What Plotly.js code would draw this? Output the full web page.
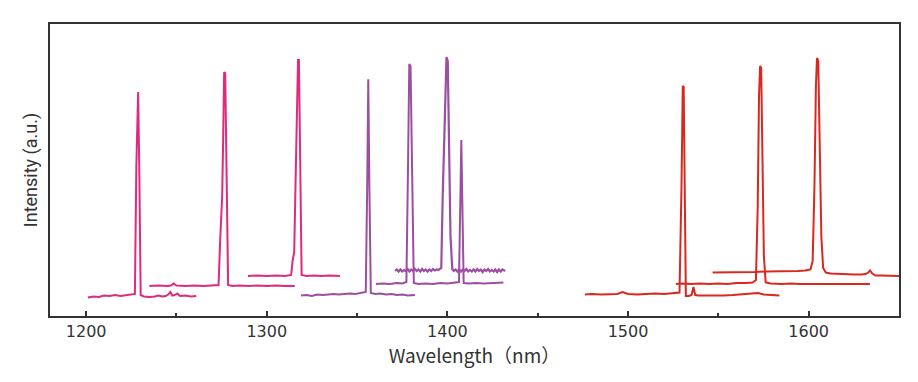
<!DOCTYPE html>
<html>
<head>
<meta charset="utf-8">
<script src="https://cdn.plot.ly/plotly-3.0.1.min.js"></script>
<style>html,body{margin:0;padding:0;background:#fff;}#chart{width:918px;height:382px;}</style>
</head>
<body>
<div id="chart"></div>
<script>
// Wavelength (nm) and intensity (a.u.)
const pink1X = [1201,1204,1207,1210,1213,1216,1219,1222,1225,1227.0,1227.8,1228.4,1228.8,1229.4,1230.2,1232,1235,1238,1240,1242,1244,1245.5,1246.6,1247.7,1249,1250.5,1252,1255,1258,1261];
const pink1Y = [18.5,19.5,19,20.5,20,21,20,20.5,21,22,150,224,224,150,21,19.5,19,19.5,20.5,19.5,20,21.5,24,20.5,21,22.5,20,20.5,19.5,20];

const pink2X = [1235,1240,1245,1247,1248.4,1250,1255,1260,1265,1270,1273.3,1274.3,1275.3,1275.8,1276.4,1277.0,1277.6,1278.6,1281,1285,1290,1295,1300,1305,1310,1315.5];
const pink2Y = [30,30.5,30,30.5,32.5,30.5,30,30.5,30,30.5,31,80,119,170,243.7,243,140,31,30,30.5,30,30.5,30,30.5,30,30];

const pink3X = [1289.6,1295,1300,1305,1310,1313.5,1314.3,1315.2,1315.9,1316.7,1317.3,1317.8,1318.4,1319.3,1322,1326,1330,1335,1340.5];
const pink3Y = [40,40.5,40,40.5,40,41,55,64,130,220,256,256,150,41,40,40.5,40,40.5,40];

const purple1X = [1318.9,1322,1325,1328,1331,1334,1337,1340,1343,1346,1349,1352,1354.8,1355.6,1356.2,1356.8,1357.6,1360,1363,1366,1369,1372,1375,1378,1382];
const purple1Y = [20.5,21,20,21.5,21,21.5,22,21.5,22,22.5,22,23,24,130,236.7,130,23,22,22.5,21.5,22,21,21.5,20.5,21];

const purple2X = [1360.4,1364,1368,1372,1375,1377.3,1378.2,1378.9,1379.6,1380.4,1381.4,1384,1388,1392,1396,1400,1404,1406.4,1407.2,1407.7,1408.2,1409.0,1412,1416,1420,1424,1428,1431];
const purple2Y = [32,32.5,32,33,32.5,34,150,252,250,140,33,32,32.5,32,33,32.5,33,34,120,176,120,33,32.5,33,32.5,33,33,33.5];

const purple3X = [1371,1372,1373,1374,1375,1376,1377,1378,1379,1380,1381,1382,1383,1384,1385,1386,1387,1388,1389,1390,1391,1392,1393,1394,1395,1396.6,1397.4,1398.1,1398.8,1399.5,1400.2,1400.9,1401.7,1402.7,1403.5,1404.5,1405.5,1406.5,1407.5,1408.5,1409.5,1410.5,1411.5,1412.5,1413.5,1414.5,1415.5,1416.5,1417.5,1418.5,1419.5,1420.5,1421.5,1422.5,1423.5,1424.5,1425.5,1426.5,1427.5,1428.5,1429.5,1430.5,1432];
const purple3Y = [45,46.5,44.5,46.5,44.5,46,45,47,44.5,46.5,45,47,45,46.5,44.5,47,45,46.5,44.5,46.5,45,47,45.5,46.5,46,48,120,160,200,259,255,180,80,47,45,46.5,44.5,46.5,44.5,46.5,45,47,44.5,46,44.5,46.5,44.5,47,45,46.5,44,46.5,45,47,44.5,46,44.5,46.5,44,46.5,44.5,46.5,45];

const red1X = [1476.1,1480,1485,1490,1494,1497,1500,1505,1510,1515,1520,1525,1528.5,1529.6,1530.3,1530.8,1531.3,1532.0,1533.5,1535.2,1536.2,1537.2,1539,1543,1548,1553,1558,1563,1568,1572,1575,1579,1583.8];
const red1Y = [21.5,22,21.5,22,22,24,22,21.5,22,22.5,22,22.5,23.5,130,230,229,110,20,20,21,29,21,20.5,20.5,20,20.5,21,21.5,22,23,21.5,21,20.5];

const red2X = [1526.5,1530,1535,1540,1545,1550,1555,1560,1565,1569,1570.8,1571.8,1572.5,1573.1,1573.7,1574.4,1575.2,1576.2,1579,1585,1590,1595,1600,1605,1610,1615,1620,1625,1630,1633.9];
const red2Y = [32,32.5,32,32.5,32,32.5,32,33,33,33.5,36,110,220,250,248,160,60,33.5,32.5,32,32.5,32,32,31.5,32,32,31.5,32,31.5,32];

const red3X = [1546.8,1552,1558,1564,1570,1576,1582,1588,1594,1598,1601.0,1602.2,1603.2,1604.0,1604.6,1605.3,1606.1,1607.0,1608.0,1609.5,1612,1616,1620,1625,1629,1631.5,1633,1634,1635.2,1637,1640,1645,1650];
const red3Y = [43.5,43.5,44,43.5,44,44.5,44.5,45,45,45.5,46.5,55,130,230,258,255,180,80,48,43.5,42.5,42,42,41.5,41.5,42,43.5,45.5,42.5,40.5,40.5,40,40];

const xTicks = [1200,1300,1400,1500,1600];
const xMinorTicks = [1250,1350,1450,1550];

const PINK = '#e02a7d', PURPLE = '#9b4f9f', RED = '#d9281f';
const series = [
  [pink1X, pink1Y, PINK, 2], [pink2X, pink2Y, PINK, 2], [pink3X, pink3Y, PINK, 2],
  [purple1X, purple1Y, PURPLE, 2], [purple2X, purple2Y, PURPLE, 2], [purple3X, purple3Y, PURPLE, 2.2],
  [red1X, red1Y, RED, 2], [red2X, red2Y, RED, 2], [red3X, red3Y, RED, 2]
];
const data = series.map(s => ({
  x: s[0], y: s[1], type: 'scatter', mode: 'lines',
  line: {color: s[2], width: s[3]}, hoverinfo: 'skip', showlegend: false
}));

const layout = {
  width: 918, height: 382,
  margin: {l: 50, r: 19, t: 24, b: 66},
  paper_bgcolor: '#fff', plot_bgcolor: '#fff',
  font: {family: '"Noto Sans CJK JP", "Noto Sans", sans-serif', color: '#333'},
  xaxis: {
    range: [1180, 1650], tickvals: xTicks, ticktext: xTicks.map(String),
    ticks: 'inside', ticklen: 5, tickwidth: 2, tickcolor: '#333',
    minor: {tickvals: xMinorTicks, ticks: 'inside', ticklen: 3, tickwidth: 2, tickcolor: '#333'},
    showline: true, linecolor: '#333', linewidth: 2, mirror: true,
    showgrid: false, zeroline: false,
    tickfont: {family: '"DejaVu Sans", sans-serif', size: 16, color: '#333'},
    title: {text: 'Wavelength（nm）', font: {size: 19, color: '#333'}, standoff: 6}
  },
  yaxis: {
    range: [0, 292], showticklabels: false, ticks: '',
    showline: true, linecolor: '#333', linewidth: 2, mirror: true,
    showgrid: false, zeroline: false,
    title: {text: 'Intensity (a.u.)', font: {family: 'Roboto, "Noto Sans", sans-serif', size: 18, color: '#333'}, standoff: 6}
  }
};
Plotly.newPlot('chart', data, layout, {displayModeBar: false, staticPlot: true});
</script>
</body>
</html>
